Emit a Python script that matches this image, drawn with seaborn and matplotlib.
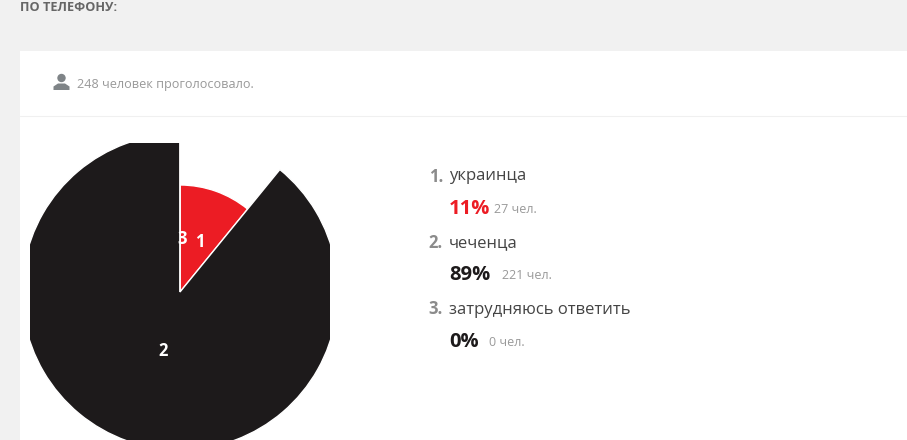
import matplotlib
matplotlib.use('Agg')
import matplotlib.pyplot as plt
import seaborn as sns
from matplotlib.patches import Circle, Polygon, Rectangle

title = 'ПО ТЕЛЕФОНУ:'
voted = '248 человек проголосовало.'
categories = ['украинца', 'чеченца', 'затрудняюсь ответить']
percents = [11, 89, 0]
counts = [27, 221, 0]
slice_values = [27, 221, 0.0]

W, H = 907, 440
RED = '#ec1c24'
BLACK = '#1d1a1b'
GREY = '#8b8b8b'

sns.set_theme(style='white')
plt.rcParams['font.family'] = ['Open Sans', 'DejaVu Sans']


def px(x, y):
    return x / W, 1 - y / H


def put_text(fig, x, y, s, **kw):
    kw.setdefault('va', 'center')
    return fig.text(*px(x, y), s, **kw)


def draw_background(fig):
    bg = fig.add_axes([0, 0, 1, 1])
    bg.set_xlim(0, W)
    bg.set_ylim(H, 0)
    bg.axis('off')
    bg.add_patch(Rectangle((20, 51), W - 20, H - 51, color='white', lw=0))
    bg.plot([20, W], [116.5, 116.5], color='#f0f0f0', lw=0.8)
    # little person icon
    bg.add_patch(Circle((61.5, 78), 4.2, color='#7f8487', lw=0))
    bg.add_patch(Polygon([(53.5, 90), (53.5, 86.5), (58, 83.5), (65, 83.5), (69.5, 86.5), (69.5, 90)],
                         color='#7f8487', lw=0))


def draw_pie(fig):
    ax = fig.add_axes([30 / W, 0, 300 / W, 297 / H])
    wedges, _ = ax.pie(slice_values, colors=[RED, BLACK, BLACK], startangle=90,
                       counterclock=False, radius=158,
                       wedgeprops={'edgecolor': 'white', 'linewidth': 1})
    # first slice is drawn shorter than the others
    wedges[0].set_radius(107)
    ax.set_xlim(-150, 150)
    ax.set_ylim(-148, 149)
    ax.set_aspect('equal')
    # the chart area cuts the big slice off on the left, top and right
    for w in wedges:
        w.set_clip_on(True)
        w.set_clip_path(ax.patch)


def draw_legend(fig):
    count_x = (494, 502, 489)
    for i, name in enumerate(categories):
        y = 176.5 + i * 66.5
        put_text(fig, 443, y, f'{i + 1}.', color=GREY, fontsize=12, fontweight='bold', ha='right')
        put_text(fig, 449, y, name, color='#444444', fontsize=12)
        pct_color = RED if i == 0 else BLACK
        put_text(fig, 449, y + 32, f'{percents[i]}%', color=pct_color, fontsize=14.5, fontweight='bold')
        put_text(fig, count_x[i], y + 32.5, f'{counts[i]} чел.', color='#999999', fontsize=9)


fig = plt.figure(figsize=(W / 100, H / 100), dpi=100, facecolor='#f1f1f1')
draw_background(fig)
draw_pie(fig)
put_text(fig, 20, 7.5, title, color='#666666', fontsize=9.2, fontweight='bold')
put_text(fig, 77, 84.5, voted, color='#999999', fontsize=9.1)
for label, x, y in zip('132', (200, 182, 163), (242, 239, 351)):
    put_text(fig, x, y, label, color='white', fontsize=12, fontweight='bold', ha='center')
draw_legend(fig)
fig.savefig('out.png', dpi=100, facecolor=fig.get_facecolor())
plt.close(fig)
